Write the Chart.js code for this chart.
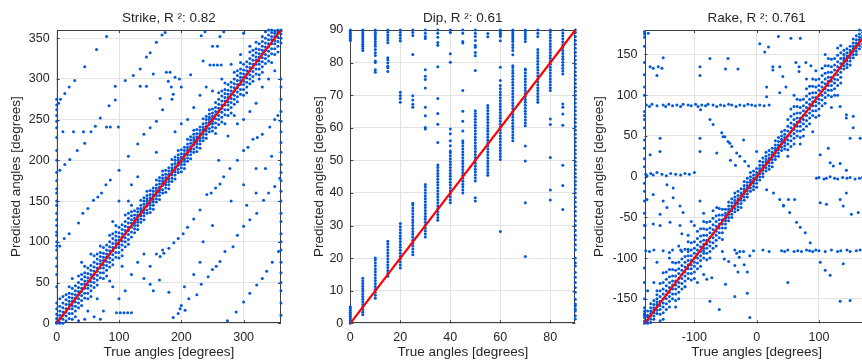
<!DOCTYPE html>
<html>
<head>
<meta charset="utf-8">
<script src="https://cdn.jsdelivr.net/npm/chart.js@4/dist/chart.umd.min.js"></script>
<style>
  html, body { margin: 0; padding: 0; background: #fff; overflow: hidden; }
  body { width: 862px; height: 363px; position: relative; }
  canvas { position: absolute; top: 0; }
  #strikeChart { left: 0; }
  #dipChart { left: 290px; }
  #rakeChart { left: 580px; }
</style>
</head>
<body>
<canvas id="strikeChart" width="290" height="363"></canvas>
<canvas id="dipChart" width="290" height="363"></canvas>
<canvas id="rakeChart" width="300" height="363"></canvas>
<script>
// ---- Strike ----
const strikeTitle = 'Strike, R \u00b2: 0.82';
const strikeTicksX = [0, 100, 200, 300];
const strikeTicksY = [0, 50, 100, 150, 200, 250, 300, 350];
const strikeFit = [[0, 0], [360, 360]];
// [true angle, [predicted angles]]
const strikeColumns = [
  [0, [0, 1, 2, 6, 11, 18, 25]], [5, [0, 1, 6, 10, 15, 21, 30]], [10, [0, 5, 10, 14, 19, 25, 33]],
  [15, [3, 9, 14, 18, 23, 29, 35]], [20, [6, 12, 18, 23, 27, 32, 37, 45]], [25, [5, 12, 18, 22, 27, 31, 36, 43]],
  [30, [8, 15, 21, 26, 31, 35, 40, 46]], [35, [19, 25, 30, 35, 39, 44, 50, 58]], [40, [22, 28, 34, 39, 43, 48, 54, 60]],
  [45, [31, 37, 43, 48, 52, 57, 62, 70]], [50, [30, 37, 43, 47, 52, 56, 61, 68]], [55, [33, 40, 46, 51, 56, 60, 65, 71]],
  [60, [44, 50, 55, 60, 64, 69, 75, 83]], [65, [47, 53, 59, 64, 68, 73, 79, 85]], [70, [56, 62, 68, 73, 77, 82, 87, 95]],
  [75, [55, 62, 68, 72, 77, 81, 86, 93]], [80, [58, 65, 71, 76, 81, 85, 90, 96]], [85, [69, 75, 80, 85, 89, 94, 100, 108]],
  [90, [72, 78, 84, 89, 93, 98, 104, 110]], [95, [81, 87, 93, 98, 102, 107, 112, 120]], [100, [80, 87, 93, 97, 102, 106, 111, 118]],
  [105, [83, 90, 96, 101, 106, 110, 115, 121]], [110, [94, 100, 105, 110, 114, 119, 125, 133]], [115, [97, 103, 109, 114, 118, 123, 129, 135]],
  [120, [106, 112, 118, 123, 127, 132, 137, 145]], [125, [111, 116, 120, 123, 126, 129, 133, 138]], [130, [115, 120, 124, 127, 131, 133, 137, 141]],
  [135, [124, 128, 132, 135, 138, 141, 145, 151]], [140, [127, 132, 136, 139, 142, 146, 150, 154]], [145, [135, 139, 144, 147, 150, 153, 157, 162]],
  [150, [136, 141, 145, 148, 151, 154, 158, 163]], [155, [140, 145, 149, 152, 156, 158, 162, 166]], [160, [149, 153, 157, 160, 163, 166, 170, 176]],
  [165, [152, 157, 161, 164, 167, 171, 175, 179]], [170, [160, 164, 169, 172, 175, 178, 182, 187]], [175, [161, 166, 170, 173, 176, 179, 183, 188]],
  [180, [165, 170, 174, 177, 181, 183, 187, 191]], [185, [174, 178, 182, 185, 188, 191, 195, 201]], [190, [177, 182, 186, 189, 192, 196, 200, 204]],
  [195, [185, 189, 194, 197, 200, 203, 207, 212]], [200, [186, 191, 195, 198, 201, 204, 208, 213]], [205, [190, 195, 199, 202, 206, 208, 212, 216]],
  [210, [199, 203, 207, 210, 213, 216, 220, 226]], [215, [202, 207, 211, 214, 217, 221, 225, 229]], [220, [210, 214, 219, 222, 225, 228, 232, 237]],
  [225, [211, 216, 220, 223, 226, 229, 233, 238]], [230, [215, 220, 224, 227, 231, 233, 237, 241]], [235, [224, 228, 232, 235, 238, 241, 245, 251]],
  [240, [227, 232, 236, 239, 242, 246, 250, 254]], [245, [235, 239, 244, 247, 250, 253, 257, 262]], [250, [236, 241, 245, 248, 251, 254, 258, 263]],
  [255, [233, 240, 246, 251, 256, 260, 265, 271]], [260, [244, 250, 255, 260, 264, 269, 275, 283]], [265, [247, 253, 259, 264, 268, 273, 279, 285]],
  [270, [256, 262, 268, 273, 277, 282, 287, 295]], [275, [255, 262, 268, 272, 277, 281, 286, 293]], [280, [258, 265, 271, 276, 281, 285, 290, 296]],
  [285, [269, 275, 280, 285, 289, 294, 300, 308]], [290, [272, 278, 284, 289, 293, 298, 304, 310]], [295, [281, 287, 293, 298, 302, 307, 312, 320]],
  [300, [280, 287, 293, 297, 302, 306, 311, 318]], [305, [283, 290, 296, 301, 306, 310, 315, 321]], [310, [294, 300, 305, 310, 314, 319, 325, 333]],
  [315, [297, 303, 309, 314, 318, 323, 329, 335]], [320, [306, 312, 318, 323, 327, 332, 337, 345]], [325, [305, 312, 318, 322, 327, 331, 336, 343]],
  [330, [308, 315, 321, 326, 331, 335, 340, 346]], [335, [319, 325, 330, 335, 339, 344, 350, 358]], [340, [322, 328, 334, 339, 343, 348, 354, 360]],
  [345, [331, 337, 343, 348, 352, 357, 360]], [350, [330, 337, 343, 347, 352, 356, 359]], [355, [333, 340, 346, 351, 356, 358, 360]],
  [360, [344, 350, 355, 359, 360]],
  // points on the plot edges
  [0, [45, 60, 70, 80, 90, 95, 100, 108, 112, 120, 127, 135, 145, 150, 160, 165, 175, 185, 200, 212, 228, 240, 248, 255, 262, 268, 275]],
  [360, [10, 25, 40, 50, 62, 75, 90, 100, 110, 125, 135, 150, 162, 175, 185, 195, 210, 222, 235, 248, 260, 275, 290, 300]]
];
const strikeScatter = [
  [187, 7], [195, 12], [198, 18], [206, 16], [212, 30], [225, 35], [232, 48], [243, 57], [250, 66], [256, 70], [262, 76],
  [270, 88], [283, 94], [290, 108], [300, 119], [310, 127], [321, 135], [332, 151], [340, 160], [350, 168], [358, 178],
  [274, 3], [288, 14], [300, 26], [310, 37], [321, 47], [330, 55], [337, 64], [346, 75], [356, 88],
  [166, 82], [172, 86], [180, 92], [188, 99], [195, 104], [203, 110], [210, 118], [220, 128], [230, 139], [241, 158],
  [248, 160], [255, 166], [262, 171], [268, 180], [278, 190], [290, 200], [300, 212], [307, 216], [315, 226], [322, 228],
  [330, 232], [342, 241], [350, 250], [355, 255],
  [5, 95], [12, 104], [20, 110], [35, 123], [42, 135], [50, 141], [59, 151], [66, 155], [72, 160], [79, 170], [86, 176],
  [100, 188], [115, 205], [130, 220], [140, 232], [150, 240], [160, 248], [170, 262], [185, 275], [200, 290], [215, 305],
  [235, 322], [250, 340], [262, 352],
  [5, 188], [13, 195], [21, 201], [33, 212], [45, 221], [55, 235], [62, 242], [70, 252], [84, 267], [94, 274], [110, 298],
  [123, 304], [134, 312], [144, 327], [150, 332], [160, 345], [169, 354], [174, 357],
  [3, 270], [6, 275], [13, 282], [20, 290], [29, 298], [45, 315], [64, 336], [80, 352],
  [96, 13], [102, 13], [108, 13], [114, 13], [120, 13], [60, 8], [70, 5], [45, 5], [35, 3], [75, 15], [100, 30], [110, 40],
  [90, 45], [120, 60], [130, 75], [140, 55], [150, 48], [155, 40], [165, 53], [180, 38], [150, 70], [140, 85], [160, 85],
  [170, 90], [200, 22], [246, 317], [252, 317], [258, 317], [264, 317], [80, 241], [86, 241], [99, 241], [10, 235],
  [27, 235], [43, 235], [176, 308], [182, 308], [179, 297], [184, 290], [187, 281], [190, 302], [197, 300], [155, 306],
  [166, 276], [94, 291], [134, 291], [144, 291], [220, 60], [230, 75], [205, 45], [235, 100], [250, 120], [280, 150],
  [300, 170], [320, 190], [210, 250], [220, 265], [230, 280], [240, 290], [190, 235], [200, 245], [120, 170], [130, 180],
  [160, 210], [100, 150], [300, 250], [320, 270], [330, 290], [340, 300], [310, 260], [260, 200], [275, 230], [290, 245],
  [335, 190], [345, 205], [320, 160], [305, 145], [232, 353], [238, 358], [268, 358], [300, 356], [330, 352], [258, 340],
  [55, 85], [65, 30], [90, 125], [105, 70], [115, 150], [40, 75], [25, 55], [50, 15], [85, 52], [280, 318], [295, 330],
  [310, 340], [265, 300], [250, 285], [325, 300], [345, 320], [350, 310], [285, 255], [270, 245]
];

// ---- Dip ----
const dipTitle = 'Dip, R \u00b2: 0.61';
const dipTicksX = [0, 20, 40, 60, 80];
const dipTicksY = [0, 10, 20, 30, 40, 50, 60, 70, 80, 90];
const dipFit = [[0, 0], [90, 90]];
const dipColumns = [
  [0, [90, 89.5, 89, 88.5, 88, 87.5, 87, 86.8, 0, 0.5, 1, 1.6, 2.2, 2.8, 3.4, 4, 4.6, 5.1]],
  [5, [90, 89.4, 88.8, 88.2, 87.6, 87, 86.3, 85.6, 85, 84.3, 83.7, 2.6, 3.4, 4.2, 5, 5.8, 6.6, 7.4, 8.2, 9, 9.8, 10.6, 11.4, 12.2, 13, 13.8]],
  [10, [90, 89.3, 88.6, 87.9, 87.2, 86.5, 85.8, 85, 84, 83, 82.2, 80.5, 80, 77.8, 77, 7.7, 8.6, 9.5, 10.4, 11.3, 12.2, 13.1, 14, 14.9, 15.8, 16.7, 17.6, 18.5, 19.4, 20]],
  [15, [90, 89.3, 88.5, 87.7, 86.9, 86.1, 81.5, 80.8, 79.9, 78.9, 78.4, 77.3, 14.4, 15.3, 16.2, 17.1, 18, 18.9, 19.8, 20.7, 21.6, 22.5, 23.4, 24.3, 25.2]],
  [20, [90, 89.2, 88.4, 87.5, 86.6, 70.9, 69.9, 69, 67.8, 17, 17.9, 18.8, 19.7, 20.6, 21.5, 22.4, 23.3, 24.2, 25.1, 26, 26.9, 27.8, 28.7, 29.6, 30.6]],
  [25, [90, 89.2, 88.3, 82.5, 69.8, 68.5, 67.2, 66.3, 21, 21.9, 22.8, 23.7, 24.6, 25.5, 26.4, 27.3, 28.2, 29.1, 30, 30.9, 31.8, 32.7, 33.6, 34.5, 35.4, 36.3, 36.8]],
  [30, [90, 89, 88, 87.4, 77.8, 75.8, 74.8, 72.2, 66.3, 63.7, 60.1, 59.6, 26.5, 27.4, 28.3, 29.2, 30.1, 31, 31.9, 32.8, 33.7, 34.6, 35.5, 36.4, 37.3, 38.2, 39.1, 40, 40.9, 41.8, 42.6]],
  [35, [90, 89, 87.8, 86.2, 85.3, 78.7, 69, 64.4, 61.1, 55.5, 31.6, 32.5, 33.4, 34.3, 35.2, 36.1, 37, 37.9, 38.8, 39.7, 40.6, 41.5, 42.4, 43.3, 44.2, 45.1, 46, 46.9, 47.8, 48.6]],
  [40, [90, 89.2, 82.7, 80.1, 59.6, 58.2, 56, 54.5, 37, 37.9, 38.8, 39.7, 40.6, 41.5, 42.4, 43.3, 44.2, 45.1, 46, 46.9, 47.8, 48.7, 49.6, 50.5, 51.4, 52.3, 52.9]],
  [45, [90, 89, 86.5, 86, 71.4, 65.1, 62, 59, 40, 40.9, 41.8, 42.7, 43.6, 44.5, 45.4, 46.3, 47.2, 48.1, 49, 49.9, 50.8, 51.7, 52.6, 53.5, 54.4, 55.3, 56]],
  [50, [90, 89, 88, 86.8, 85.3, 84.7, 83.1, 82.1, 77.6, 37.5, 38.5, 43.7, 44.6, 45.5, 46.4, 47.3, 48.2, 49.1, 50, 50.9, 51.8, 52.7, 53.6, 54.5, 55.4, 56.3, 57.2, 58.1, 59, 59.9, 60.8, 61.7, 62.6, 63.5, 64.4, 65.2]],
  [55, [88.9, 87.9, 45.4, 46.3, 47.2, 48.1, 49, 49.9, 50.8, 51.7, 52.6, 53.5, 54.4, 55.3, 56.2, 57.1, 58, 58.9, 59.8, 60.7, 61.6, 62.5, 63.4, 64.3, 65.2, 66.1, 66.8]],
  [60, [90, 89.5, 89, 88.5, 88, 86.7, 78.6, 74.5, 73, 28.2, 50.3, 51.2, 52.1, 53, 53.9, 54.8, 55.7, 56.6, 57.5, 58.4, 59.3, 60.2, 61.1, 62, 62.9, 63.8, 64.7, 65.6, 66.5, 67.4, 68.3, 69.2, 70.1, 71, 72]],
  [65, [90, 89.4, 88.8, 88.2, 87.6, 87, 86.4, 85.5, 84.6, 83.7, 82.4, 56, 56.9, 57.8, 58.7, 59.6, 60.5, 61.4, 62.3, 63.2, 64.1, 65, 65.9, 66.8, 67.7, 68.6, 69.5, 70.4, 71.3, 72.2, 73.1, 74, 74.9, 75.8, 76.7, 77.6, 78.5, 79]],
  [70, [90, 89.4, 88.7, 88, 87.3, 86.5, 20.5, 37, 49.8, 54.4, 60.6, 61.5, 62.4, 63.3, 64.2, 65.1, 66, 66.9, 67.8, 68.7, 69.6, 70.5, 71.4, 72.3, 73.2, 74.1, 75, 75.9, 76.8, 77.7, 78]],
  [75, [90, 89, 88, 67.8, 68.7, 69.6, 70.5, 71.4, 72.3, 73.2, 74.1, 75, 75.9, 76.8, 77.7, 78.6, 79.5, 80.4, 81.3, 82.2, 83.1, 84]],
  [80, [37.8, 40.9, 50.9, 61, 62.7, 71.4, 72.3, 73.2, 74.1, 75, 75.9, 76.8, 77.7, 78.6, 79.5, 80.4, 81.3, 82.2, 83.1, 84, 84.9, 85.8, 86.7, 87.6, 88.5, 89.4, 90]],
  [85, [34.9, 42.3, 48.5, 60.8, 64.2, 66.3, 67.3, 76.5, 77.4, 78.3, 79.2, 80.1, 81, 81.9, 82.8, 83.7, 84.6, 85.5, 86.4, 87.3, 88.2, 89.1, 90]],
  [90, [1.3, 2.3, 3.8, 4.4, 5.4, 5.9, 7.4, 9.5, 11, 12.5, 14.1, 15.6, 17.6, 18.6, 20, 22.6, 24.1, 25.6, 27, 28.5, 30, 31.5, 33, 34.4, 35.8, 37.2,
        38.6, 40, 41.2, 42.4, 43.6, 44.8, 46, 47.2, 48.4, 49.6, 50.8, 52, 53.2, 54.4, 55.6, 56.8, 58, 59.2, 60.4, 61.6, 62.8, 64, 65.2, 66.4,
        67.6, 68.8, 70, 71.2, 72.4, 73.6, 74.8, 76, 77.2, 78.4, 79.6, 80.8, 82, 83.2, 84.4, 85.6, 86.8, 88, 89.2, 90]]
];

// ---- Rake ----
const rakeTitle = 'Rake, R \u00b2: 0.761';
const rakeTicksX = [-100, 0, 100];
const rakeTicksY = [-150, -100, -50, 0, 50, 100, 150];
const rakeFit = [[-180, -180], [180, 180]];
const rakeColumns = [
  [-180, [-180, -177, -173, -170, -168, -161]], [-175, [-180, -179, -176, -172, -170, -165]],
  [-170, [-179, -175, -171, -168, -165, -161, -156]], [-165, [-175, -171, -167, -164, -161, -157, -152]],
  [-160, [-168, -164, -160, -157, -154, -150, -145, -140]], [-155, [-177, -169, -163, -158, -153, -147, -140, -131]],
  [-150, [-175, -167, -160, -155, -150, -144, -138, -130]], [-145, [-163, -156, -150, -145, -140, -134, -126, -117]],
  [-140, [-160, -153, -147, -142, -136, -130, -123, -114]], [-135, [-150, -144, -138, -133, -128, -122, -114, -105]],
  [-130, [-152, -144, -138, -133, -128, -122, -115, -106]], [-125, [-150, -142, -135, -130, -125, -119, -113, -105]],
  [-120, [-138, -131, -125, -120, -115, -109, -101, -92]], [-115, [-135, -128, -122, -117, -111, -105, -98, -89]],
  [-110, [-125, -119, -113, -108, -103, -97, -89, -80]], [-105, [-127, -119, -113, -108, -103, -97, -90, -81]],
  [-100, [-125, -117, -110, -105, -100, -94, -88, -80]], [-95, [-113, -106, -100, -95, -90, -84, -76, -67]],
  [-90, [-110, -103, -97, -92, -86, -80, -73, -64]], [-85, [-100, -94, -88, -83, -78, -72, -64, -55]],
  [-80, [-102, -94, -88, -83, -78, -72, -65, -56]], [-75, [-100, -92, -85, -80, -75, -69, -63, -55]],
  [-70, [-88, -81, -75, -70, -65, -59, -51, -42]], [-65, [-85, -78, -72, -67, -61, -55, -48]],
  [-60, [-75, -69, -63, -58, -53, -47, -39]], [-55, [-77, -69, -63, -58, -53, -47, -40]],
  [-50, [-63, -58, -54, -51, -48, -45, -40]], [-45, [-54, -50, -46, -43, -40, -36, -31]],
  [-40, [-50, -46, -42, -39, -36, -32, -27]], [-35, [-43, -39, -35, -32, -29, -25, -20]],
  [-30, [-41, -37, -33, -30, -27, -23, -18]], [-25, [-38, -33, -29, -26, -23, -20, -15]],
  [-20, [-29, -25, -21, -18, -15, -11, -6]], [-15, [-25, -21, -17, -14, -11, -7, -2]],
  [-10, [-18, -14, -10, -7, -4, 0, 5]], [-5, [-16, -12, -8, -5, -2, 2, 7]],
  [0, [-13, -8, -4, -1, 2, 5, 10]], [5, [-4, 0, 4, 7, 10, 14, 19]], [10, [0, 4, 8, 11, 14, 18, 23]],
  [15, [7, 11, 15, 18, 21, 25, 30]], [20, [9, 13, 17, 20, 23, 27, 32]], [25, [12, 17, 21, 24, 27, 30, 35]],
  [30, [21, 25, 29, 32, 35, 39, 44]], [35, [25, 29, 33, 36, 39, 43, 48]], [40, [32, 36, 40, 43, 46, 50, 55]],
  [45, [34, 38, 42, 45, 48, 52, 57]], [50, [25, 33, 40, 45, 50, 56, 62, 70]], [55, [37, 44, 50, 55, 60, 66, 74, 83]],
  [60, [40, 47, 53, 58, 64, 70, 77, 86]], [65, [50, 56, 62, 67, 72, 78, 86, 95]], [70, [48, 56, 62, 67, 72, 78, 85, 94]],
  [75, [50, 58, 65, 70, 75, 81, 87, 95]], [80, [62, 69, 75, 80, 85, 91, 99, 108]], [85, [65, 72, 78, 83, 89, 95, 102, 111]],
  [90, [75, 81, 87, 92, 97, 103, 111, 120]], [95, [73, 81, 87, 92, 97, 103, 110, 119]], [100, [75, 83, 90, 95, 100, 106, 112, 120]],
  [105, [87, 94, 100, 105, 110, 116, 124, 133]], [110, [90, 97, 103, 108, 114, 120, 127, 136]], [115, [100, 106, 112, 117, 122, 128, 136, 145]],
  [120, [98, 106, 112, 117, 122, 128, 135, 144]], [125, [100, 108, 115, 120, 125, 131, 137, 145]], [130, [112, 119, 125, 130, 135, 141, 149, 158]],
  [135, [115, 122, 128, 133, 139, 145, 152, 161]], [140, [132, 136, 140, 143, 146, 150, 155]], [145, [134, 138, 142, 145, 148, 152, 157]],
  [150, [137, 142, 146, 149, 152, 155, 160]], [155, [146, 150, 154, 157, 160, 164, 169]], [160, [150, 154, 158, 161, 164, 168, 173]],
  [165, [157, 161, 165, 168, 171, 175, 180]], [170, [159, 163, 167, 170, 173, 177]], [175, [162, 167, 171, 174, 177, 180]],
  [180, [171, 175, 179]],
  // points on the left edge
  [-180, [-165, -150, -130, -112, -75, -60, -45, -30, -18, -8, 12, 22, 35, 45, 60, 70, 75, 80, 100, 110, 125, 140, 160, 171, 175, 178]]
];
const rakeScatter = [
  [-177, 88], [-172, 86], [-168, 89], [-160, 87], [-150, 88], [-146, 86], [-141, 89], [-135, 87], [-128, 88], [-122, 86],
  [-118, 89], [-110, 88], [-105, 87], [-98, 89], [-94, 86], [-88, 88], [-82, 87], [-78, 89], [-70, 88], [-64, 86], [-58, 88],
  [-52, 87], [-45, 89], [-40, 88], [-33, 86], [-27, 88], [-20, 87], [-14, 89], [-8, 88], [-2, 87], [5, 88], [12, 87], [20, 88],
  [-178, 3], [-176, 1], [-170, 4], [-166, 2], [-160, 5], [-152, 3], [-145, 1], [-138, 4], [-130, 3], [-122, 2], [-115, 4],
  [-108, 3], [-100, 5],
  [96, -2], [100, -1], [108, -3], [112, -2], [118, 0], [125, -2], [130, -3], [138, -1], [145, -2], [150, -1], [158, -3],
  [165, -2], [170, -1],
  [-178, -91], [-172, -92], [-165, -90], [-150, -91], [-140, -93], [-122, -90], [-110, -92], [-85, -91], [-55, -92],
  [-35, -90], [-27, -92], [-21, -92], [-5, -91], [10, -90], [20, -92], [40, -91], [45, -92], [50, -90], [60, -92], [66, -91],
  [72, -92], [80, -90], [85, -91], [90, -92], [95, -90], [100, -91], [110, -92], [120, -90], [130, -92], [135, -91],
  [145, -90], [150, -92], [160, -91], [166, -90],
  [-90, 82], [-75, 70], [-70, 64], [-56, 54], [-54, 49], [-51, 49], [-46, 43], [-43, 41], [-40, 37], [-32, 29], [-27, 25],
  [-19, 19], [-13, 13], [16, -16], [27, -20], [37, -28], [43, -36], [53, -44], [64, -56], [70, -62], [78, -69], [86, -81],
  [102, -105], [110, -115], [118, -121], [134, -153], [150, -152],
  [-174, 176], [-171, 135], [-166, 133], [-158, 135], [-152, 133], [-160, 124], [-150, 146], [-91, 135], [-91, 124],
  [-75, 145], [-50, 132], [-46, 145], [-30, 132], [5, 163], [19, 159], [13, 153], [35, 172], [55, 170], [70, 170],
  [37, 135], [42, 123], [47, 110], [37, 103], [16, 110], [16, 98], [26, 135], [26, 131], [63, 140], [68, 135], [68, 129],
  [79, 140], [87, 136],
  [-155, 47], [-171, 27], [-155, 31], [-91, 47], [-91, 31], [-64, 29], [-21, 45], [0, 31], [-42, 20], [-34, 14],
  [-176, -28], [-166, -22], [-150, -30], [-134, -26], [-123, -36], [-118, -44], [-155, -46], [-144, -38], [-144, -10],
  [-134, -14], [-91, -30], [-64, -38], [-179, -60], [-166, -58], [-155, -60], [-139, -56], [-123, -60], [51, -28],
  [61, -28], [43, -35], [102, -32], [112, -34], [134, -28], [139, -36], [144, -20], [152, -46], [163, -44], [123, 13],
  [134, 16], [144, 8], [118, 17], [102, 27], [115, 35], [155, 60], [166, 47], [144, 72], [150, 47], [134, 86], [144, 76],
  [155, 74],
  [-80, -126], [-72, -124], [-50, -132], [-30, -117], [-15, -117], [-15, -143], [-35, -147], [-75, -153], [-60, -163],
  [-11, -173], [50, -130], [139, -107], [-52, -101], [-45, -104], [-35, -109], [-28, -99], [-20, -108], [-11, -97], [-32, -94],
  [-165, -130], [-150, -118], [-140, -100], [-125, -85], [-110, -72], [-100, -60], [-85, -45], [-160, -105], [-135, -90],
  [-120, -70], [-105, -55], [-175, -140], [-130, -160], [-115, -135], [-95, -130], [-85, -120], [80, 120], [95, 130],
  [110, 150], [60, 100], [70, 40], [90, 55], [120, 85], [130, 100]
];

const dotColor = 'rgb(0, 88, 220)';
const inkColor = '#262626';
Chart.defaults.font.family = '"Liberation Sans", Arial, Helvetica, sans-serif';
Chart.defaults.color = inkColor;

function toPoints(columns, pairs) {
  const pts = columns.flatMap(([x, ys]) => ys.map(y => ({ x, y })));
  (pairs || []).forEach(([x, y]) => pts.push({ x, y }));
  return pts;
}

// box and inward tick marks, MATLAB style
const axesBox = {
  id: 'axesBox',
  beforeDatasetsDraw(chart) {
    const { ctx, chartArea: a, scales: { x, y } } = chart;
    ctx.save();
    ctx.strokeStyle = '#404040';
    ctx.lineWidth = 1;
    ctx.beginPath();
    x.ticks.forEach(t => {
      const px = Math.round(x.getPixelForValue(t.value)) + 0.5;
      ctx.moveTo(px, a.bottom); ctx.lineTo(px, a.bottom - 3);
      ctx.moveTo(px, a.top); ctx.lineTo(px, a.top + 3);
    });
    y.ticks.forEach(t => {
      const py = Math.round(y.getPixelForValue(t.value)) + 0.5;
      ctx.moveTo(a.left, py); ctx.lineTo(a.left + 3, py);
      ctx.moveTo(a.right, py); ctx.lineTo(a.right - 3, py);
    });
    ctx.stroke();
    ctx.strokeRect(Math.round(a.left) + 0.5, Math.round(a.top) + 0.5, Math.round(a.width) - 1, Math.round(a.height) - 1);
    ctx.restore();
  }
};

function makeChart(id, cfg) {
  new Chart(document.getElementById(id), {
    type: 'scatter',
    data: {
      datasets: [{
        data: cfg.fit.map(([x, y]) => ({ x, y })),
        showLine: true,
        borderColor: '#ff0000',
        borderWidth: 2.2,
        pointRadius: 0
      }, {
        data: cfg.points,
        backgroundColor: dotColor,
        borderWidth: 0,
        pointRadius: 1.5,
        clip: 3
      }]
    },
    options: {
      responsive: false,
      animation: false,
      events: [],
      layout: { padding: { left: 0, right: cfg.padRight, top: 0, bottom: 0 } },
      plugins: {
        legend: { display: false },
        tooltip: { enabled: false },
        title: {
          display: true,
          text: cfg.title,
          fullSize: false,
          color: inkColor,
          font: { size: 13.5, weight: 'normal' },
          padding: { top: 10, bottom: 3.8 }
        }
      },
      scales: {
        x: {
          type: 'linear',
          min: cfg.xRange[0],
          max: cfg.xRange[1],
          afterBuildTicks: s => { s.ticks = cfg.xTicks.map(v => ({ value: v })); },
          afterFit: s => { s.height = 39.7; },
          grid: { color: '#e3e3e3', drawTicks: false },
          border: { display: false },
          ticks: { padding: 7, autoSkip: false, maxRotation: 0, color: inkColor, font: { size: 12.5 } },
          title: {
            display: true,
            text: 'True angles [degrees]',
            color: inkColor,
            font: { size: 13.5 },
            padding: { top: 0, bottom: 2.5 }
          }
        },
        y: {
          type: 'linear',
          min: cfg.yRange[0],
          max: cfg.yRange[1],
          afterBuildTicks: s => { s.ticks = cfg.yTicks.map(v => ({ value: v })); },
          afterFit: s => { s.width = cfg.yWidth; },
          grid: { color: '#e3e3e3', drawTicks: false },
          border: { display: false },
          ticks: { padding: 7, autoSkip: false, color: inkColor, font: { size: 12.5 } },
          title: {
            display: true,
            text: 'Predicted angles [degrees]',
            color: inkColor,
            font: { size: 13.5 },
            padding: { top: cfg.yTitlePad, bottom: 0 }
          }
        }
      }
    },
    plugins: [axesBox]
  });
}

makeChart('strikeChart', {
  title: strikeTitle, fit: strikeFit, points: toPoints(strikeColumns, strikeScatter),
  xRange: [0, 360], yRange: [0, 360], xTicks: strikeTicksX, yTicks: strikeTicksY,
  yWidth: 56.7, yTitlePad: 8.6, padRight: 9
});
makeChart('dipChart', {
  title: dipTitle, fit: dipFit, points: toPoints(dipColumns),
  xRange: [0, 90], yRange: [0, 90], xTicks: dipTicksX, yTicks: dipTicksY,
  yWidth: 60.3, yTitlePad: 20.9, padRight: 4.7
});
makeChart('rakeChart', {
  title: rakeTitle, fit: rakeFit, points: toPoints(rakeColumns, rakeScatter),
  xRange: [-180, 180], yRange: [-180, 180], xTicks: rakeTicksX, yTicks: rakeTicksY,
  yWidth: 64.5, yTitlePad: 10.9, padRight: 11.2
});
</script>
</body>
</html>
